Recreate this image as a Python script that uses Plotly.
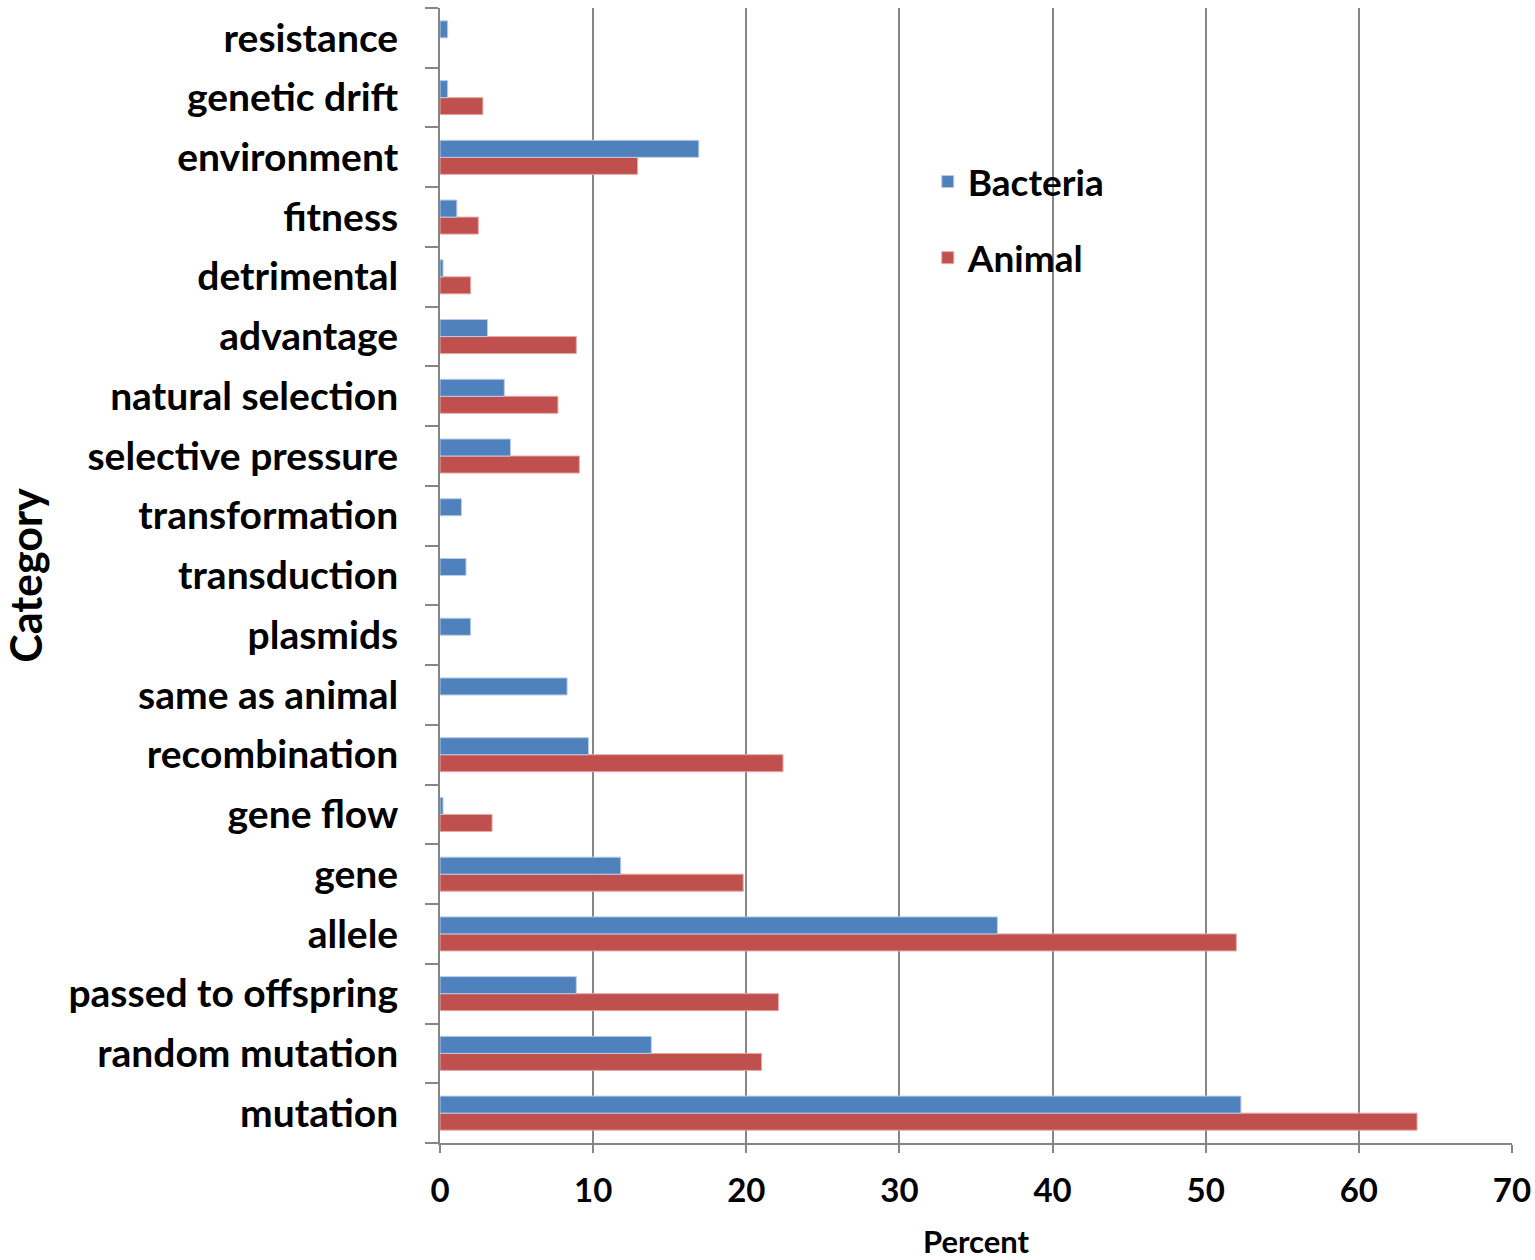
import plotly.graph_objects as go

# Categories listed bottom-to-top, as drawn on the y axis
categories = [
    "mutation", "random mutation", "passed to offspring", "allele", "gene",
    "gene flow", "recombination", "same as animal", "plasmids", "transduction",
    "transformation", "selective pressure", "natural selection", "advantage",
    "detrimental", "fitness", "environment", "genetic drift", "resistance",
]

# Percent of responses per category; None where a group gave no such response
bacteria = [52.3, 13.8, 8.9, 36.4, 11.8, 0.2, 9.7, 8.3, 2.0, 1.7,
            1.4, 4.6, 4.2, 3.1, 0.2, 1.1, 16.9, 0.5, 0.5]
animal = [63.8, 21.0, 22.1, 52.0, 19.8, 3.4, 22.4, None, None, None,
          None, 9.1, 7.7, 8.9, 2.0, 2.5, 12.9, 2.8, None]

x_ticks = [0, 10, 20, 30, 40, 50, 60, 70]

BLUE = "#4F81BD"
RED = "#C0504D"
GRID = "#868686"
FONT = "Lato, 'Open Sans', sans-serif"

fig = go.Figure()
# Animal first so it sits below Bacteria within each category group
fig.add_trace(go.Bar(
    y=categories, x=animal, name="Animal", orientation="h",
    legendgroup="animal", legendrank=2,
    marker=dict(color=RED, line=dict(color="#E6A9A7", width=1)),
))
fig.add_trace(go.Bar(
    y=categories, x=bacteria, name="Bacteria", orientation="h",
    legendgroup="bacteria", legendrank=1,
    marker=dict(color=BLUE, line=dict(color="#B9CDE5", width=1)),
))

fig.update_layout(
    width=1535, height=1260,
    margin=dict(l=440, r=23, t=8, b=117, autoexpand=False),
    paper_bgcolor="white", plot_bgcolor="white",
    barmode="group", bargap=0.43, bargroupgap=0,
    font=dict(family=FONT, color="black"),
    showlegend=True,
    legend=dict(
        x=0.455, y=0.874, xanchor="left", yanchor="top",
        traceorder="grouped", tracegroupgap=25,
        font=dict(size=37, family=FONT, weight="bold"),
        bgcolor="rgba(0,0,0,0)",
        itemwidth=30,
    ),
)

fig.update_xaxes(
    range=[0, 70], tickvals=x_ticks, ticktext=[str(v) for v in x_ticks],
    showgrid=True, gridcolor=GRID, gridwidth=2,
    showline=True, linecolor=GRID, linewidth=2,
    ticks="outside", ticklen=8, tickcolor=GRID, tickwidth=2,
    tickfont=dict(size=33, family=FONT, weight="bold"),
    ticklabelstandoff=9,
    title=dict(text="Percent", font=dict(size=31, family=FONT, weight="bold"),
               standoff=36),
    zeroline=False, mirror=False, automargin=False,
)

fig.update_yaxes(
    type="category", categoryorder="array", categoryarray=categories,
    showgrid=False,
    showline=True, linecolor=GRID, linewidth=2,
    ticks="outside", tickson="boundaries", ticklen=13, tickcolor=GRID, tickwidth=2,
    tickfont=dict(size=39, family=FONT, weight="bold"),
    ticklabelstandoff=32,
    title=dict(text="Category", font=dict(size=43, family=FONT, weight="bold"),
               standoff=56),
    automargin=False,
)

fig.write_html("out.html")
